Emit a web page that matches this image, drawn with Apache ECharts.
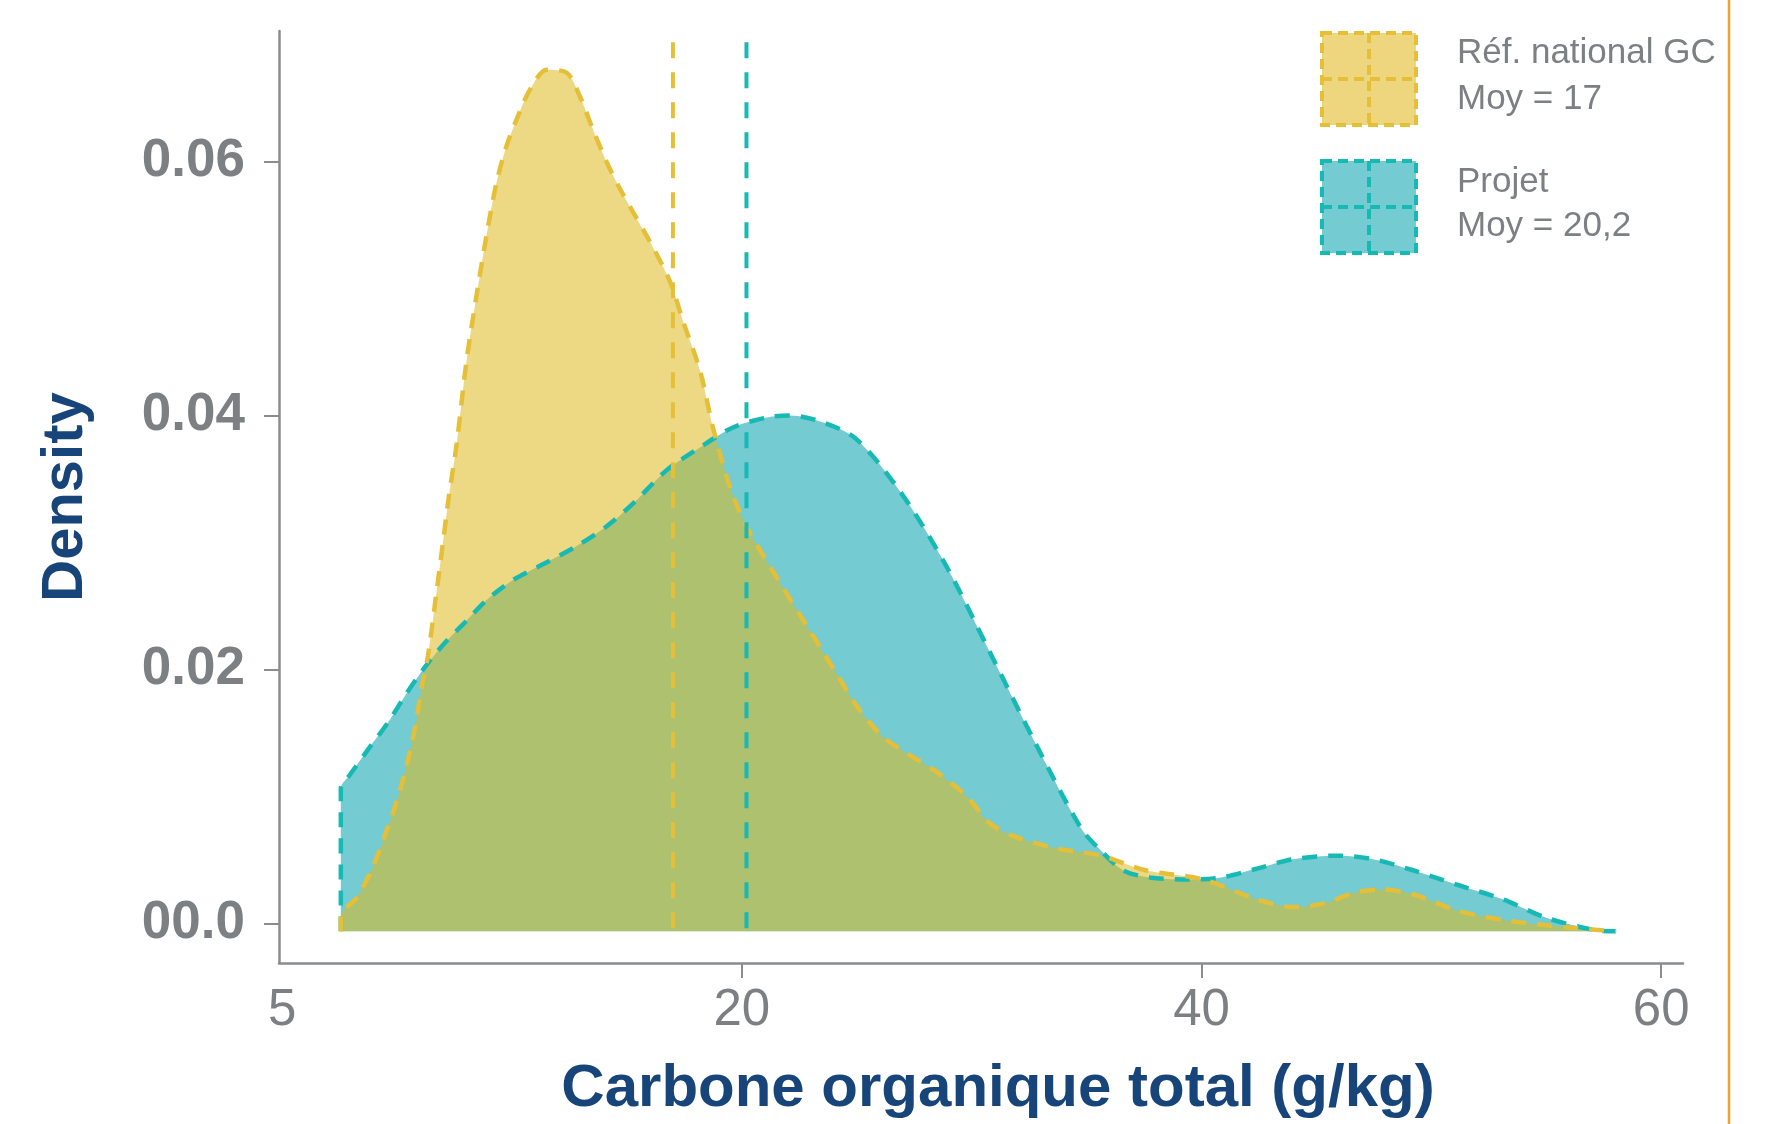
<!DOCTYPE html>
<html>
<head>
<meta charset="utf-8">
<script src="https://cdn.jsdelivr.net/npm/echarts@6/dist/echarts.min.js"></script>
<style>
html,body{margin:0;padding:0;background:#fff;}
#chart{width:1766px;height:1124px;}
</style>
</head>
<body>
<div id="chart"></div>
<script>
// ---- data ----
const BASE = -0.0006; // density baseline of the drawn fills
const refX = [2.55, 2.55, 3.25, 3.93, 4.43, 4.93, 5.34, 5.77, 6.10, 6.34, 6.69, 7.01, 7.25, 7.59, 8.02, 8.46, 8.89, 9.33, 9.76, 10.20, 10.78, 11.51, 12.38, 12.95, 13.52, 14.12, 14.70, 15.26, 16.00, 16.87, 17.44, 18.18, 18.74, 19.48, 20.21, 21.57, 22.92, 24.10, 25.08, 26.08, 26.88, 28.43, 29.80, 30.75, 31.74, 33.67, 35.63, 37.56, 40.09, 42.41, 43.98, 45.33, 46.68, 47.86, 49.20, 51.16, 53.11, 55.03, 57.16, 58.04];
const refY = [-0.0006, 0.0006, 0.00207, 0.00442, 0.00677, 0.00935, 0.01193, 0.01537, 0.01897, 0.02108, 0.02577, 0.03023, 0.0336, 0.03776, 0.04431, 0.0495, 0.05419, 0.05839, 0.06123, 0.06332, 0.06566, 0.06723, 0.06699, 0.06514, 0.06253, 0.05995, 0.05784, 0.05604, 0.05369, 0.05057, 0.04744, 0.04353, 0.03907, 0.03438, 0.03125, 0.0271, 0.02319, 0.01975, 0.01693, 0.01482, 0.01376, 0.01201, 0.0100, 0.00797, 0.00695, 0.00594, 0.00536, 0.00421, 0.00348, 0.00192, 0.00131, 0.0016, 0.00246, 0.0027, 0.00232, 0.00102, 0.0003, -0.00012, -0.00048, -0.0006];
const projX = [2.55, 2.55, 2.93, 3.77, 4.60, 5.43, 6.25, 7.08, 7.93, 8.93, 10.08, 11.43, 12.76, 14.09, 15.26, 16.73, 18.18, 19.61, 21.08, 22.09, 23.49, 24.97, 26.92, 28.88, 30.85, 32.80, 34.76, 35.60, 36.58, 37.76, 39.50, 40.85, 42.41, 43.98, 45.92, 47.46, 49.20, 51.16, 53.11, 55.03, 57.16, 58.04];
const projY = [-0.0006, 0.01068, 0.01169, 0.01381, 0.01584, 0.01819, 0.0203, 0.02212, 0.02368, 0.02554, 0.0271, 0.02838, 0.02968, 0.03125, 0.03307, 0.03571, 0.0375, 0.03907, 0.03985, 0.04001, 0.03949, 0.03817, 0.03394, 0.02821, 0.02116, 0.01412, 0.00751, 0.0058, 0.00421, 0.00364, 0.00348, 0.00364, 0.00434, 0.00508, 0.00536, 0.00508, 0.00421, 0.00305, 0.00192, 0.00045, -0.00051, -0.0006];
const means = [17, 20.2];
const meanTop = 0.0694;
const legendNames = ["Réf. national GC", "Projet"];
const legendMeans = ["Moy = 17", "Moy = 20,2"];
const xTickLabels = {0: "5", 20: "20", 40: "40", 60: "60"};
const yTickLabels = {0: "00.0", 0.02: "0.02", 0.04: "0.04", 0.06: "0.06"};
const xTitle = "Carbone organique total (g/kg)";
const yTitle = "Density";

// ---- styles ----
const YEL_LINE = '#E6BF38', TEAL_LINE = '#17B9B5';
const YEL_FILL = 'rgba(222,185,27,0.54)', TEAL_FILL = '#74CBD1';
const GRAY = '#7d8083', BLUE = '#17457A';
const FONT = '"Liberation Sans", Arial, sans-serif';

const zip = (xs, ys) => xs.map((x, i) => [x, ys[i]]);
const refData = zip(refX, refY);
const projData = zip(projX, projY);

const chart = echarts.init(document.getElementById('chart'), null, {renderer: 'canvas'});

function areaSeries(data, color, z) {
  return {type: 'line', data, smooth: 0.3, symbol: 'none', silent: true, z,
    lineStyle: {width: 0, opacity: 0}, areaStyle: {color, opacity: 1, origin: BASE}};
}
function lineSeries(data, color, z) {
  return {type: 'line', data, smooth: 0.3, symbol: 'none', silent: true, z,
    lineStyle: {color, width: 4.5, type: [15, 11], cap: 'butt'}};
}
function vline(x, color) {
  return {type: 'line', data: [[x, meanTop], [x, BASE]], symbol: 'none', silent: true, z: 6,
    lineStyle: {color, width: 4, type: [16, 14]}};
}

function legendItem(y0, fill, stroke, name, meanTxt, t1, t2) {
  const x0 = 1322, w = 94, h = 92;
  const dash = {lineDash: [10, 6]};
  return [
    {type: 'rect', shape: {x: x0, y: y0, width: w, height: h}, style: Object.assign({fill, stroke, lineWidth: 4}, dash)},
    {type: 'line', shape: {x1: x0 + w / 2, y1: y0, x2: x0 + w / 2, y2: y0 + h}, style: Object.assign({stroke, lineWidth: 4}, dash)},
    {type: 'line', shape: {x1: x0, y1: y0 + h / 2, x2: x0 + w, y2: y0 + h / 2}, style: Object.assign({stroke, lineWidth: 4}, dash)},
    {type: 'text', x: 1457, y: t1, style: {text: name, fill: GRAY, font: '35px ' + FONT, verticalAlign: 'middle', align: 'left'}},
    {type: 'text', x: 1457, y: t2, style: {text: meanTxt, fill: GRAY, font: '35px ' + FONT, verticalAlign: 'middle', align: 'left'}}
  ];
}

const option = {
  animation: false,
  backgroundColor: '#fff',
  grid: {left: 279, right: 83, top: 31, bottom: 155, containLabel: false},
  xAxis: {
    type: 'value', min: -0.14, max: 60.95,
    splitLine: {show: false},
    axisLine: {show: true, onZero: false, lineStyle: {color: '#8a8c8e', width: 2.5}},
    axisTick: {show: true, customValues: [20, 40, 60], length: 15, lineStyle: {color: '#8a8c8e', width: 2}},
    axisLabel: {customValues: [0, 20, 40, 60], formatter: v => xTickLabels[v] ?? '', color: GRAY,
      fontSize: 51, fontFamily: FONT, margin: 22},
    name: xTitle, nameLocation: 'middle', nameGap: 96,
    nameTextStyle: {color: BLUE, fontSize: 60, fontWeight: 'bold', fontFamily: FONT, padding: [0, 0, 0, 34]}
  },
  yAxis: {
    type: 'value', min: -0.00309, max: 0.07028,
    splitLine: {show: false},
    axisLine: {show: true, onZero: false, lineStyle: {color: '#8a8c8e', width: 2.5}},
    axisTick: {show: true, customValues: [0, 0.02, 0.04, 0.06], length: 15, lineStyle: {color: '#8a8c8e', width: 2}},
    axisLabel: {customValues: [0, 0.02, 0.04, 0.06], formatter: v => yTickLabels[Math.round(v * 100) / 100] ?? '', color: GRAY,
      fontSize: 53, fontWeight: 'bold', fontFamily: FONT, margin: 34},
    name: yTitle, nameLocation: 'middle', nameGap: 184, nameRotate: 90,
    nameTextStyle: {color: BLUE, fontSize: 58, fontWeight: 'bold', fontFamily: FONT}
  },
  series: [
    areaSeries(projData, TEAL_FILL, 1),
    areaSeries(refData, YEL_FILL, 2),
    lineSeries(projData, TEAL_LINE, 3),
    lineSeries(refData, YEL_LINE, 4),
    vline(means[0], YEL_LINE),
    vline(means[1], TEAL_LINE)
  ],
  graphic: [
    ...legendItem(33, '#EDD67E', YEL_LINE, legendNames[0], legendMeans[0], 53, 99),
    ...legendItem(161, TEAL_FILL, TEAL_LINE, legendNames[1], legendMeans[1], 182, 226),
    {type: 'line', shape: {x1: 1729, y1: 0, x2: 1729, y2: 1124}, style: {stroke: '#F4A033', lineWidth: 2.5}}
  ]
};
chart.setOption(option);
</script>
</body>
</html>
